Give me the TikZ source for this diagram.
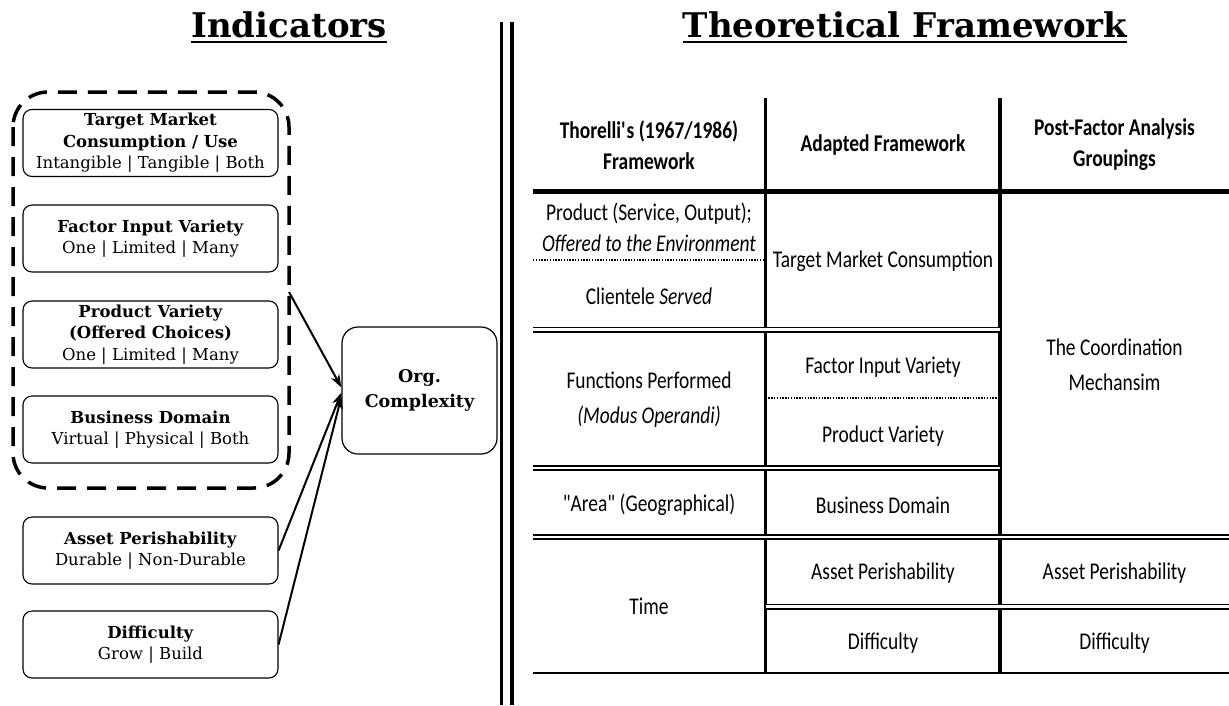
\documentclass[tikz,border=0pt]{standalone}
\usepackage{fontspec}
\setmainfont{DejaVu Serif}
\newfontfamily\calfont{Carlito}[FakeStretch=0.81]
\usetikzlibrary{arrows.meta, positioning}

\begin{document}
\begin{tikzpicture}[x=1pt, y=-1pt,
  title/.style={font=\fontsize{34}{40}\selectfont\bfseries, inner sep=0pt, anchor=base},
  uline/.style={line width=2.2pt},
  indbox/.style={draw, rounded corners=9pt, line width=1.1pt, minimum width=255pt,
    minimum height=67pt, align=center, inner sep=0pt, font=\fontsize{16.5}{21.5}\selectfont},
  orgbox/.style={draw, rounded corners=16pt, line width=1.2pt, minimum width=155pt,
    minimum height=127pt, align=center, font=\fontsize{17.5}{25}\selectfont\bfseries},
  groupline/.style={line width=3.5pt, dash pattern=on 19pt off 11pt, rounded corners=35pt},
  link/.style={line width=2pt, -{Stealth[length=13pt, width=9pt, inset=4pt]}},
  sepline/.style={line width=3.5pt},
  cell/.style={align=center, inner sep=0pt, font=\fontsize{24}{31}\calfont},
  headcell/.style={cell, font=\fontsize{24}{31}\calfont\bfseries},
  thickrule/.style={line width=5pt},
  rule/.style={line width=1.8pt},
  dblrule/.style={line width=1.8pt, double, double distance=2.4pt},
  colrule/.style={line width=3.2pt},
  dotrule/.style={line width=1.4pt, dash pattern=on 1.4pt off 1.4pt},
]
\useasboundingbox (0,0) rectangle (1229,705);

% indicators
\node[title] (ind) at (289,37) {Indicators};
\draw[uline] ([yshift=-4pt]ind.south west) -- ([yshift=-4pt]ind.south east);

\node[indbox] (target) at (150.5,143) {\textbf{Target Market}\\\textbf{Consumption / Use}\\Intangible | Tangible | Both};
\node[indbox] (factor) at (150.5,238.5) {\textbf{Factor Input Variety}\\One | Limited | Many};
\node[indbox] (product) at (150.5,334.5) {\textbf{Product Variety}\\\textbf{(Offered Choices)}\\One | Limited | Many};
\node[indbox] (domain) at (150.5,429.5) {\textbf{Business Domain}\\Virtual | Physical | Both};
\node[indbox] (asset) at (150.5,550.5) {\textbf{Asset Perishability}\\Durable | Non-Durable};
\node[indbox] (diff) at (150.5,644.5) {\textbf{Difficulty}\\Grow | Build};

\draw[groupline] (13,92) rectangle (289,488);
\coordinate (grp) at (289,292);

\node[orgbox] (org) at (419.5,390.5) {Org.\\Complexity};
\coordinate (in1) at ([yshift=3pt]org.west);
\coordinate (in2) at ([yshift=-2pt]org.west);
\coordinate (in3) at ([yshift=-6pt]org.west);

\draw[link] (grp) -- (in1);
\draw[link] (asset.east) -- (in2);
\draw[link] (diff.east) -- (in3);

% separator
\draw[sepline] (501.5,22) -- (501.5,705);
\draw[sepline] (512,22) -- (512,705);

% framework table
\node[title] (theo) at (905,37) {Theoretical Framework};
\draw[uline] ([yshift=-4pt]theo.south west) -- ([yshift=-4pt]theo.south east);

\draw[colrule] (765.5,98) -- (765.5,674);
\draw[colrule] (1000,98) -- (1000,674);
\draw[thickrule] (533,191) -- (1229,191);
\draw[dotrule] (533,260) -- (765.5,260);
\draw[dblrule] (533,329.5) -- (1000,329.5);
\draw[dotrule] (765.5,398) -- (1000,398);
\draw[dblrule] (533,468) -- (1000,468);
\draw[dblrule] (533,537) -- (1229,537);
\draw[dblrule] (765.5,606.5) -- (1229,606.5);
\draw[rule] (533,673) -- (1229,673);

\node[headcell] (h1) at (649,145) {Thorelli\textquotesingle s (1967/1986)\\Framework};
\node[headcell] (h2) at (883,145) {Adapted Framework};
\node[headcell] (h3) at (1114.5,145) {Post-Factor Analysis\\Groupings};

\node[cell] (prod) at (649,227) {Product (Service, Output);\\\textit{Offered to the Environment}};
\node[cell] (client) at (649,296) {Clientele \textit{Served}};
\node[cell] (tmc) at (883,261) {Target Market Consumption};

\node[cell] (func) at (649,399.5) {Functions Performed\\[4pt]\textit{(Modus Operandi)}};
\node[cell] (fiv) at (883,367) {Factor Input Variety};
\node[cell] (pv) at (883,436) {Product Variety};
\node[cell] (coord) at (1114.5,364.5) {The Coordination\\[4pt]Mechansim};

\node[cell] (area) at (649,505) {"Area" (Geographical)};
\node[cell] (bd) at (883,505) {Business Domain};

\node[cell] (time) at (649,606) {Time};
\node[cell] (ap2) at (883,573) {Asset Perishability};
\node[cell] (ap3) at (1114.5,573) {Asset Perishability};
\node[cell] (df2) at (883,643) {Difficulty};
\node[cell] (df3) at (1114.5,643) {Difficulty};
\end{tikzpicture}
\end{document}
